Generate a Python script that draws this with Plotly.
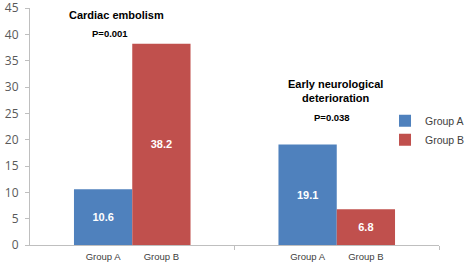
import plotly.graph_objects as go

categories = ["Cardiac embolism", "Early neurological<br>deterioration"]
series_names = ["Group A", "Group B"]
group_a = [10.6, 19.1]
group_b = [38.2, 6.8]
p_values = ["P=0.001", "P=0.038"]
y_ticks = [0, 5, 10, 15, 20, 25, 30, 35, 40, 45]

colors = ["#4F81BD", "#C0504D"]
bargap = 0.43
x = list(range(len(categories)))
half = (1 - bargap) / 4
tickvals, ticktext = [], []
for i in x:
    tickvals += [i - half, i + half]
    ticktext += series_names

fig = go.Figure()
for name, vals, col in zip(series_names, [group_a, group_b], colors):
    fig.add_trace(go.Bar(
        x=x, y=vals, name=name, marker=dict(color=col, line=dict(width=0)),
        text=[f"<b>{v:.1f}</b>" for v in vals], textposition="inside",
        insidetextanchor="middle", textangle=0,
        textfont=dict(family="Liberation Sans, Arial", size=11, color="white"),
    ))

ann_font_t = dict(family="Liberation Sans, Arial", size=11, color="#000000")
ann_font_p = dict(family="Liberation Sans, Arial", size=9.5, color="#000000")
annotations = [
    dict(x=-0.075, y=43.6, text="<b>" + categories[0] + "</b>", font=ann_font_t),
    dict(x=-0.109, y=40.2, text="<b>" + p_values[0] + "</b>", font=ann_font_p),
    dict(x=0.996, y=29.2, text="<b>" + categories[1] + "</b>", font=ann_font_t),
    dict(x=0.977, y=24.3, text="<b>" + p_values[1] + "</b>", font=ann_font_p),
]
for a in annotations:
    a.update(xref="x", yref="y", showarrow=False, xanchor="center", yanchor="middle")

fig.update_layout(
    width=472, height=264,
    margin=dict(l=30, r=33, t=8, b=19, autoexpand=False),
    paper_bgcolor="white", plot_bgcolor="white",
    barmode="group", bargap=bargap, bargroupgap=0,
    showlegend=True,
    legend=dict(x=0.868, y=0.585, xanchor="left", yanchor="top",
                font=dict(family="Liberation Sans, Arial", size=10.5, color="#404040"),
                bgcolor="rgba(0,0,0,0)", itemwidth=30, tracegroupgap=0,
                borderwidth=0),
    annotations=annotations,
    xaxis=dict(range=[-0.5, 1.5], tickmode="array", tickvals=tickvals, ticktext=ticktext,
               ticks="", showline=True, linecolor="#BFBFBF", linewidth=1,
               showgrid=False, zeroline=False, automargin=False,
               ticklabelstandoff=3,
               tickfont=dict(family="Liberation Sans, Arial", size=9.5, color="#404040"),
               minor=dict(tickmode="array", tickvals=[0.5, 1.5], ticks="outside",
                          ticklen=4, tickcolor="#BFBFBF", showgrid=False)),
    yaxis=dict(range=[0, 45], tickmode="array", tickvals=y_ticks,
               ticks="outside", ticklen=4, tickcolor="#BFBFBF",
               showline=True, linecolor="#BFBFBF", linewidth=1,
               showgrid=False, zeroline=False, automargin=False,
               ticklabeloverflow="allow", ticklabelstandoff=4,
               tickfont=dict(family="Open Sans, DejaVu Sans", size=12, color="#595959")),
)

fig.write_html("out.html", config={"displayModeBar": False},
               post_script="document.body.style.margin='0';document.body.style.padding='0';")
